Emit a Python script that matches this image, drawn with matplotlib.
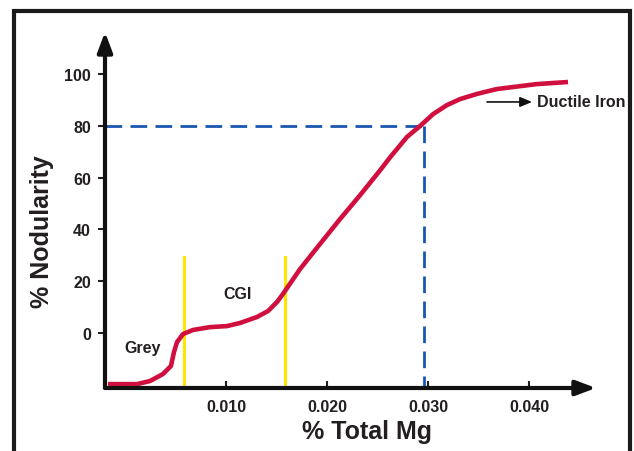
import matplotlib
matplotlib.use("Agg")
import matplotlib.pyplot as plt
from matplotlib.patches import Rectangle

plt.rcParams["font.family"] = ["Liberation Sans", "DejaVu Sans"]
plt.rcParams["font.weight"] = "bold"
plt.rcParams["lines.scale_dashes"] = False

TEXT = "#231f20"
RED = "#d10f3f"
BLUE = "#1a56b0"
YELLOW = "#ffe600"

# Nodularity curve
mg = [-0.00168, 0.00119, 0.00248, 0.00376, 0.00455, 0.00485, 0.00515,
      0.00574, 0.00673, 0.00842, 0.0101, 0.01139, 0.01307, 0.01416,
      0.01505, 0.01564, 0.01733, 0.01931, 0.02129, 0.02327, 0.02525,
      0.02624, 0.02792, 0.02921, 0.0305, 0.03188, 0.03317, 0.03485,
      0.03683, 0.04079, 0.04386]
nodularity = [-19.7, -19.7, -18.5, -15.8, -12.7, -7.3, -3.5,
              -0.4, 1.2, 2.3, 2.7, 3.9, 6.2, 8.5,
              12.0, 15.1, 24.7, 34.4, 44.0, 53.2, 62.8,
              67.8, 75.7, 79.9, 84.5, 88.0, 90.3, 92.3,
              94.2, 96.1, 96.9]

# region boundaries (yellow) and the 80 % marker (blue)
bounds = [0.00584, 0.01584]
bound_top = 29.3
marker_mg = 0.0296
marker_nod = 80

x_ticks = [0.010, 0.020, 0.030, 0.040]
x_labels = ["0.010", "0.020", "0.030", "0.040"]
y_ticks = [0, 20, 40, 60, 80, 100]

XMIN, XMAX = -0.00198, 0.04663
YMIN, YMAX = -21.2, 116.2

fig = plt.figure(figsize=(6.34, 4.52), dpi=100)
ax = fig.add_axes([105 / 634, 1 - 389 / 452, 491 / 634, 356 / 452])
ax.set_xlim(XMIN, XMAX)
ax.set_ylim(YMIN, YMAX)
for s in ax.spines.values():
    s.set_visible(False)

# dashed 80 % guide
ax.plot([XMIN, marker_mg], [marker_nod, marker_nod], color=BLUE, lw=2,
        dashes=(12, 6), zorder=2)
ax.plot([marker_mg, marker_mg], [marker_nod, YMIN], color=BLUE, lw=2,
        dashes=(12, 6), zorder=2)

for b in bounds:
    ax.plot([b, b], [YMIN, bound_top], color=YELLOW, lw=2.2, zorder=2)

ax.plot(mg, nodularity, color=RED, lw=3.3, solid_capstyle="butt",
        solid_joinstyle="round", zorder=3)

# arrowed axes
arrow = dict(arrowstyle="-|>,head_length=0.8,head_width=0.3", lw=3,
             color="#111111", mutation_scale=15, shrinkA=0, shrinkB=0)
ax.annotate("", xy=(1, 0), xytext=(0, 0), xycoords="axes fraction",
            arrowprops=arrow, zorder=4)
ax.annotate("", xy=(0, 1), xytext=(0, 0), xycoords="axes fraction",
            arrowprops=arrow, zorder=4)

ax.set_xticks(x_ticks)
ax.set_xticklabels(x_labels)
ax.set_yticks(y_ticks)
ax.tick_params(axis="x", direction="in", length=5, width=1.5, pad=8,
               labelsize=11.5, colors=TEXT)
ax.tick_params(axis="y", direction="out", length=5, width=1.5, pad=5,
               labelsize=11.5, colors=TEXT)
for lab in ax.get_xticklabels() + ax.get_yticklabels():
    lab.set_fontweight("bold")

ax.text(0.00178, -5.4, "Grey", ha="center", va="center", fontsize=11.5,
        fontweight="bold", color=TEXT)
ax.text(0.01119, 15.1, "CGI", ha="center", va="center", fontsize=11.5,
        fontweight="bold", color=TEXT)
ax.annotate("", xy=(0.0403, 89.2), xytext=(0.03584, 89.2),
            arrowprops=dict(arrowstyle="-|>,head_length=0.6,head_width=0.25",
                            lw=1.2, color="#111111", mutation_scale=12,
                            shrinkA=0, shrinkB=0))
ax.text(0.0408, 89.2, "Ductile Iron", ha="left", va="center", fontsize=11.5,
        fontweight="bold", color=TEXT)

fig.text(367 / 634, 1 - 432 / 452, "% Total Mg", ha="center", va="center",
         fontsize=18, fontweight="bold", color=TEXT)
fig.text(42 / 634, 1 - 232 / 452, "% Nodularity", ha="center", va="center",
         rotation=90, fontsize=18, fontweight="bold", color=TEXT)

# outer frame
fig.add_artist(Rectangle((14 / 634, -0.05), 616 / 634, 1.05 - 12 / 452,
                         transform=fig.transFigure, fill=False,
                         edgecolor="#1a1a1a", lw=3))

fig.savefig("out.png", dpi=100)
